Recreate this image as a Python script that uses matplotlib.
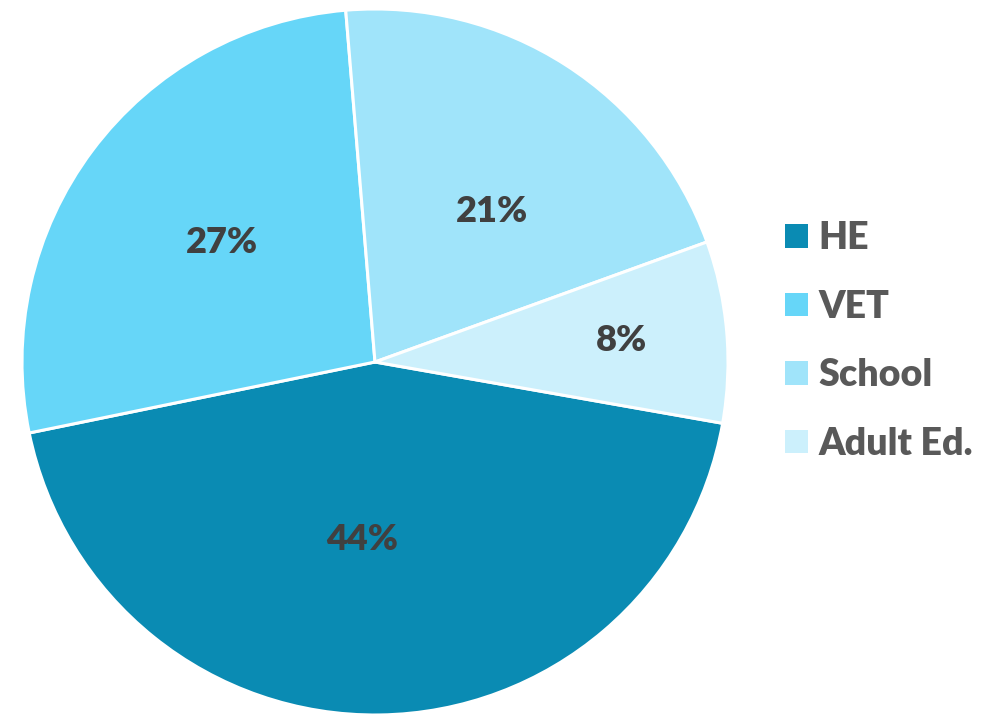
import numpy as np
import matplotlib
matplotlib.use("Agg")
import matplotlib.pyplot as plt
from matplotlib.patches import Patch

plt.rcParams["font.family"] = ["Lato", "DejaVu Sans"]

categories = ["HE", "VET", "School", "Adult Ed."]
shares = [44.0, 26.9, 20.8, 8.3]
colors = ["#0A8BB3", "#66D6F8", "#A0E4FA", "#CCF0FC"]

# label placement per slice (Excel "best fit"): distance from centre, and
# clockwise shift in degrees from the slice middle
label_r = [0.505, 0.55, 0.54, 0.70]
label_shift = [5, 1, 5, 0]

fig = plt.figure(figsize=(10.02, 7.15), dpi=100)
ax = fig.add_axes([22 / 1002, 0.0, 706 / 1002, 706 / 715])

wedges, _ = ax.pie(
	shares,
	colors=colors,
	startangle=-10,
	counterclock=False,
	radius=1.0,
	wedgeprops=dict(edgecolor="white", linewidth=2.2),
)
ax.set_xlim(-1, 1)
ax.set_ylim(-1, 1)
ax.set_aspect("equal")

for w, val, r, s in zip(wedges, shares, label_r, label_shift):
	mid = np.deg2rad((w.theta1 + w.theta2) / 2 - s)
	ax.text(r * np.cos(mid), r * np.sin(mid), f"{val:.0f}%",
			ha="center", va="center", fontsize=26, fontweight="heavy", color="#404040")

handles = [Patch(facecolor=c, edgecolor="none") for c in colors]
leg = fig.legend(
	handles, categories,
	loc="center left", bbox_to_anchor=(785 / 1002, 1 - 341 / 715),
	frameon=False, fontsize=27, handlelength=0.6, handleheight=0.6,
	handletextpad=0.3, labelspacing=0.92, borderpad=0, borderaxespad=0,
)
for t in leg.get_texts():
	t.set_color("#595959")
	t.set_fontweight("heavy")

fig.savefig("out.png", dpi=100)
